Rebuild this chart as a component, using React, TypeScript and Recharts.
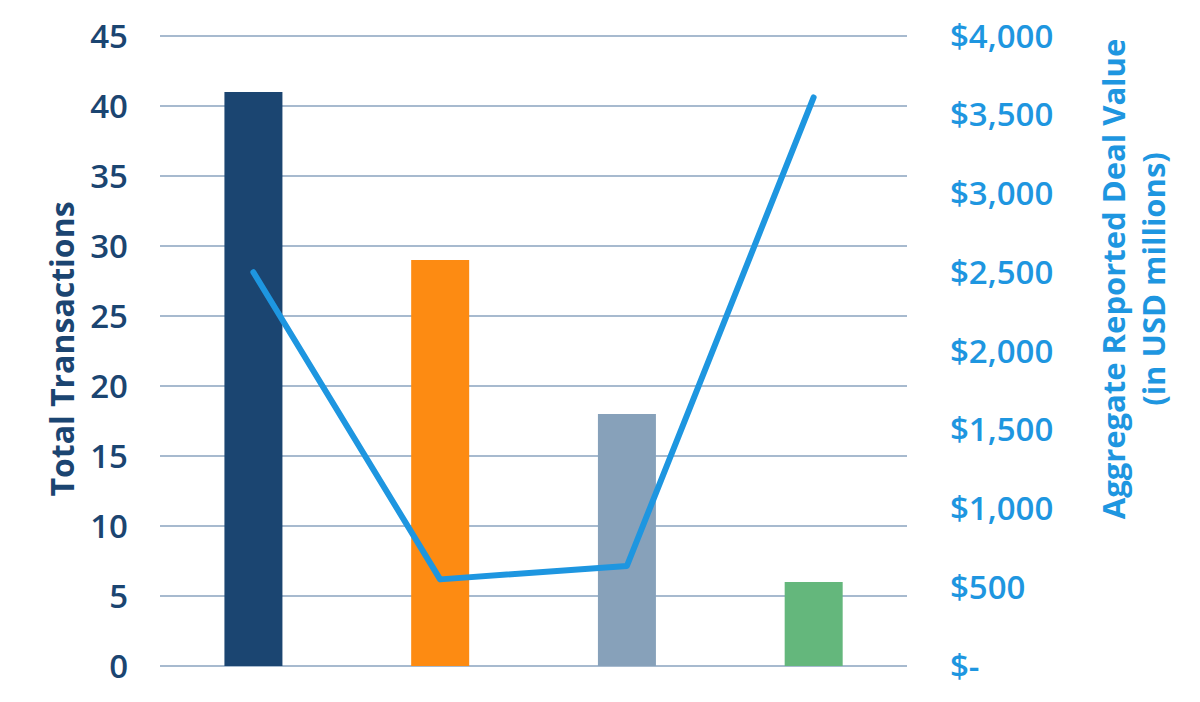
import { ComposedChart, Bar, Line, XAxis, YAxis, CartesianGrid, Cell, Label } from 'recharts';

const categories = ['A', 'B', 'C', 'D'];
const transactions = [41, 29, 18, 6];
const dealValue = [2500, 550, 635, 3610];
const barColors = ['#1b4571', '#fd8b12', '#87a1ba', '#64b77c'];
const leftTicks = [0, 5, 10, 15, 20, 25, 30, 35, 40, 45];
const rightTicks = [0, 500, 1000, 1500, 2000, 2500, 3000, 3500, 4000];

const data = categories.map((name, i) => ({
  name,
  transactions: transactions[i],
  value: dealValue[i],
}));

const FONT = '"Open Sans", sans-serif';
const NAVY = '#1b4571';
const BLUE = '#1e96e0';

const formatMoney = (v: number) => (v === 0 ? '$-' : '$' + v.toLocaleString('en-US'));

const LeftTitle = () => (
  <text
    x={61}
    y={349}
    transform="rotate(-90, 61, 349)"
    textAnchor="middle"
    dominantBaseline="central"
    fill={NAVY}
    fontFamily={FONT}
    fontWeight={700}
    fontSize={32}
  >
    Total Transactions
  </text>
);

const RightTitle = () => (
  <g fill={BLUE} fontFamily={FONT} fontWeight={700} fontSize={31} textAnchor="middle">
    <text x={1113} y={279} transform="rotate(-90, 1113, 279)" dominantBaseline="central">
      Aggregate Reported Deal Value
    </text>
    <text x={1153} y={279} transform="rotate(-90, 1153, 279)" dominantBaseline="central">
      (in USD millions)
    </text>
  </g>
);

export default function App() {
  return (
    <div style={{ position: 'absolute', left: 0, top: 0, width: 1200, height: 702, background: '#fff' }}>
      <ComposedChart
        width={1200}
        height={702}
        data={data}
        margin={{ top: 36, right: 0, bottom: 36, left: 0 }}
        barCategoryGap="34.5%"
      >
        <CartesianGrid yAxisId="left" vertical={false} stroke="#8aa3bf" strokeWidth={1.6} />
        <XAxis dataKey="name" hide />
        <YAxis
          yAxisId="left"
          width={160}
          domain={[0, 45]}
          ticks={leftTicks}
          interval={0}
          axisLine={false}
          tickLine={false}
          tickSize={0}
          tickMargin={32}
          tick={{ fill: NAVY, fontFamily: FONT, fontWeight: 600, fontSize: 33 }}
        >
          <Label content={<LeftTitle />} />
        </YAxis>
        <YAxis
          yAxisId="right"
          orientation="right"
          width={293}
          domain={[0, 4000]}
          ticks={rightTicks}
          interval={0}
          axisLine={false}
          tickLine={false}
          tickSize={0}
          tickMargin={43}
          tickFormatter={formatMoney}
          tick={{ fill: BLUE, fontFamily: FONT, fontWeight: 600, fontSize: 33, textAnchor: 'start' }}
        >
          <Label content={<RightTitle />} />
        </YAxis>
        <Bar yAxisId="left" dataKey="transactions" isAnimationActive={false}>
          {transactions.map((_, i) => (
            <Cell key={i} fill={barColors[i]} />
          ))}
        </Bar>
        <Line
          yAxisId="right"
          dataKey="value"
          stroke={BLUE}
          strokeWidth={6}
          dot={false}
          activeDot={false}
          strokeLinejoin="round"
          strokeLinecap="round"
          isAnimationActive={false}
        />
      </ComposedChart>
    </div>
  );
}
